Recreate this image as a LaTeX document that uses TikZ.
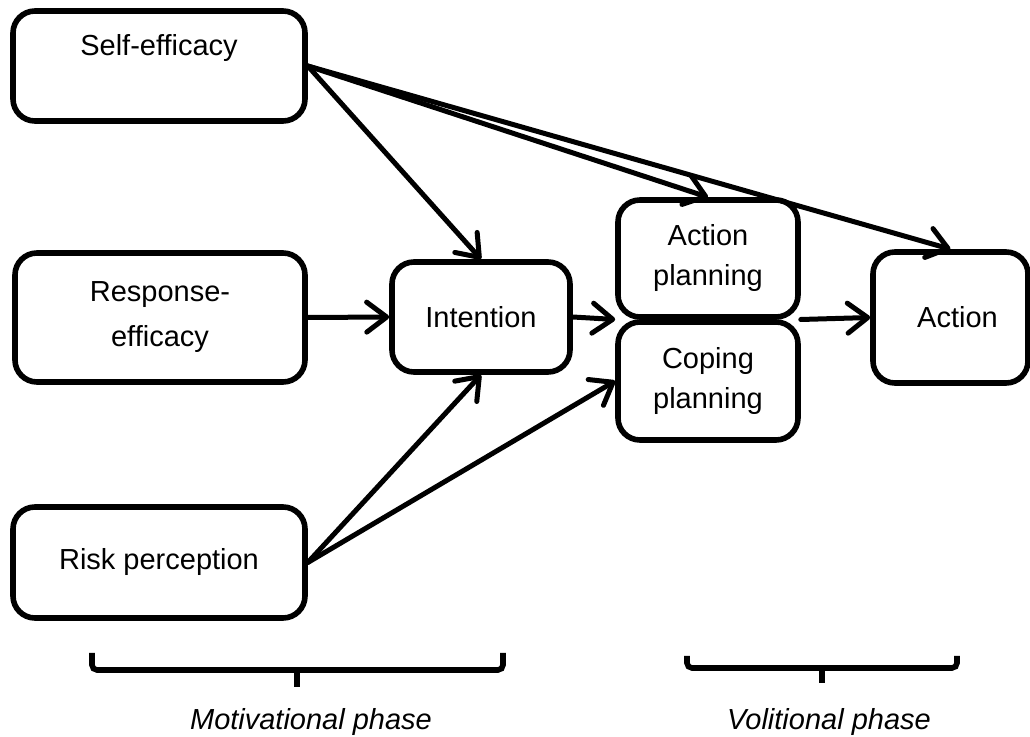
\documentclass[tikz,border=0pt]{standalone}
\usepackage{fontspec}
\setmainfont{Liberation Sans}
\usetikzlibrary{arrows.meta,calc}

\begin{document}
\begin{tikzpicture}[x=0.5pt,y=-0.5pt,
  every node/.style={font=\fontsize{14.5}{22.5}\selectfont},
  box/.style={draw, line width=2.8pt, rounded corners=11pt, align=center,
    inner sep=0pt},
  tight/.style={font=\fontsize{14.5}{20}\selectfont},
  link/.style={line width=2.5pt, line cap=round,
    -{Straight Barb[length=10pt,width=15pt,line cap=round,line join=round]}},
  bracket/.style={line width=2.8pt, rounded corners=2.5pt}]
\useasboundingbox (0,0) rectangle (1030,737);

% motivational factors
\node[box, minimum width=146pt, minimum height=55pt,
      label={[yshift=9pt]center:Self-efficacy}] (se) at (159,66) {};
\node[box, minimum width=145pt, minimum height=64.5pt] (re) at (160,317.5)
      {Response-\\efficacy};
\node[box, minimum width=146pt, minimum height=55.5pt] (rp) at (159,562.5)
      {Risk perception};

% intention and planning
\node[box, minimum width=89pt, minimum height=55pt] (int) at (481,317) {Intention};
\node[box, tight, minimum width=90pt, minimum height=58.5pt] (ap) at (708,258.5)
      {Action\\planning};
\node[box, tight, minimum width=90pt, minimum height=59pt] (cp) at (708,381)
      {Coping\\planning};

% behaviour
\node[box, minimum width=77.5pt, minimum height=65.5pt] (act) at (950.5,317.5)
      {\hspace{7pt}Action};

\coordinate (pin) at ($(ap.south west)!0.5!(cp.north west)$);
\coordinate (pout) at ($(ap.south east)!0.5!(cp.north east)$);

% paths
\draw[link] (se.east) -- (int.north);
\draw[link] (se.east) -- (ap.north);
\draw[link] (se.east) -- (act.north);
\draw[link] (re.east) -- (int.west);
\draw[link] (rp.east) -- (int.south);
\draw[link] (rp.east) -- (cp.west);
\draw[link] (int.east) -- (pin);
\draw[link] (pout) -- (act.west);

% phase brackets
\draw[bracket] (92,653) -- (92,670) -- (503,670) -- (503,653);
\draw[bracket] (297,670) -- (297,687);
\node (mot) at (311,722) {\itshape Motivational phase};

\draw[bracket] (687,656) -- (687,668) -- (957,668) -- (957,656);
\draw[bracket] (822,668) -- (822,683);
\node (vol) at (829,722) {\itshape Volitional phase};
\end{tikzpicture}
\end{document}
